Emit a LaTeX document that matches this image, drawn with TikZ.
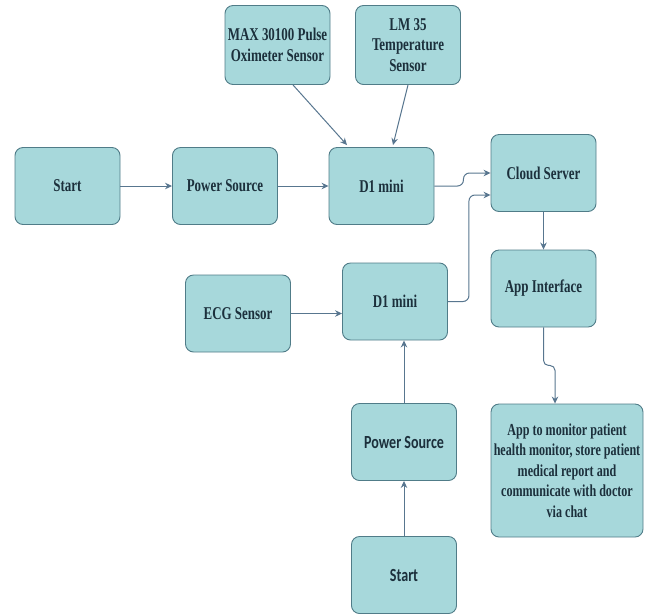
\documentclass[tikz,border=0pt]{standalone}
\usepackage{fontspec}
\usetikzlibrary{arrows.meta}
\newfontfamily\boxserif{Liberation Serif}[
  FakeStretch=0.72,
  UprightFont={Liberation Serif Bold},
  BoldFont={Liberation Serif Bold},
  BoldFeatures={FakeStretch=0.72}]
\newfontfamily\boxsans{Carlito}[
  FakeStretch=0.76,
  UprightFont={Carlito Bold},
  BoldFont={Carlito Bold},
  BoldFeatures={FakeStretch=0.76}]
\definecolor{boxfill}{RGB}{167,216,219}
\definecolor{boxline}{RGB}{80,124,136}
\definecolor{arrowcol}{RGB}{88,118,143}
\definecolor{labelcol}{RGB}{28,48,60}
\tikzset{
  blk/.style={draw=boxline, fill=boxfill, rounded corners=8pt, line width=0.9pt,
    minimum width=105pt, minimum height=77pt, inner sep=1pt, align=center,
    text=labelcol, font=\boxserif\fontsize{18}{20.5}\selectfont},
  sansblk/.style={blk, font=\boxsans\fontsize{18.5}{21}\selectfont},
  arr/.style={draw=arrowcol, line width=1pt, -{Stealth[length=7pt,width=6.5pt]}}
}
\begin{document}
\begin{tikzpicture}[x=1pt,y=-1pt]
\useasboundingbox (0,0) rectangle (655,614);
% upper chain
\node[blk] (start1) at (67.5,186) {Start};
\node[blk] (power1) at (225,186) {Power Source};
\node[blk] (d1a) at (381.5,186) {D1 mini};
\node[blk, minimum height=79pt] (max) at (277.5,45) {MAX 30100 Pulse\\Oximeter Sensor};
\node[blk, minimum height=79pt] (lm35) at (408,45) {LM 35\\Temperature\\Sensor};
% cloud side
\node[blk] (cloud) at (543.5,173) {Cloud Server};
\node[blk] (app) at (543.5,288.5) {App Interface};
\node[blk, minimum width=152pt, minimum height=133pt, inner sep=0pt,
  font=\boxserif\fontsize{16.8}{20.5}\selectfont] (monitor) at (567,470.5)
  {App to monitor patient\\health monitor, store patient\\medical report and\\communicate with doctor\\via chat};
% lower chain
\node[blk] (ecg) at (238,313.5) {ECG Sensor};
\node[blk] (d1b) at (395,301.5) {D1 mini};
\node[sansblk] (power2) at (404,442) {Power Source};
\node[sansblk] (start2) at (404,575) {Start};
% connectors
\draw[arr] (start1) -- (power1);
\draw[arr] (power1) -- (d1a);
\draw[arr] ([xshift=15.5pt]max.south) -- ([xshift=-34.5pt,yshift=2pt]d1a.north);
\draw[arr] (lm35.south) -- ([xshift=11.5pt,yshift=2pt]d1a.north);
\draw[arr, rounded corners=6pt] (d1a.east) -- ++(29,0) |- (cloud.west);
\draw[arr, rounded corners=6pt] (d1b.east) -- ++(21,0) |- ([yshift=-22pt]cloud.west);
\draw[arr] (cloud.south) -- (app.north);
\draw[arr, rounded corners=5pt] (app.south) -- ++(0,38) -| ([xshift=-12pt]monitor.north);
\draw[arr] (power2.north) -- (power2.north |- d1b.south);
\draw[arr] (start2.north) -- (power2.south);
\draw[arr] (ecg.east) -- (ecg.east -| d1b.west);
\end{tikzpicture}
\end{document}
